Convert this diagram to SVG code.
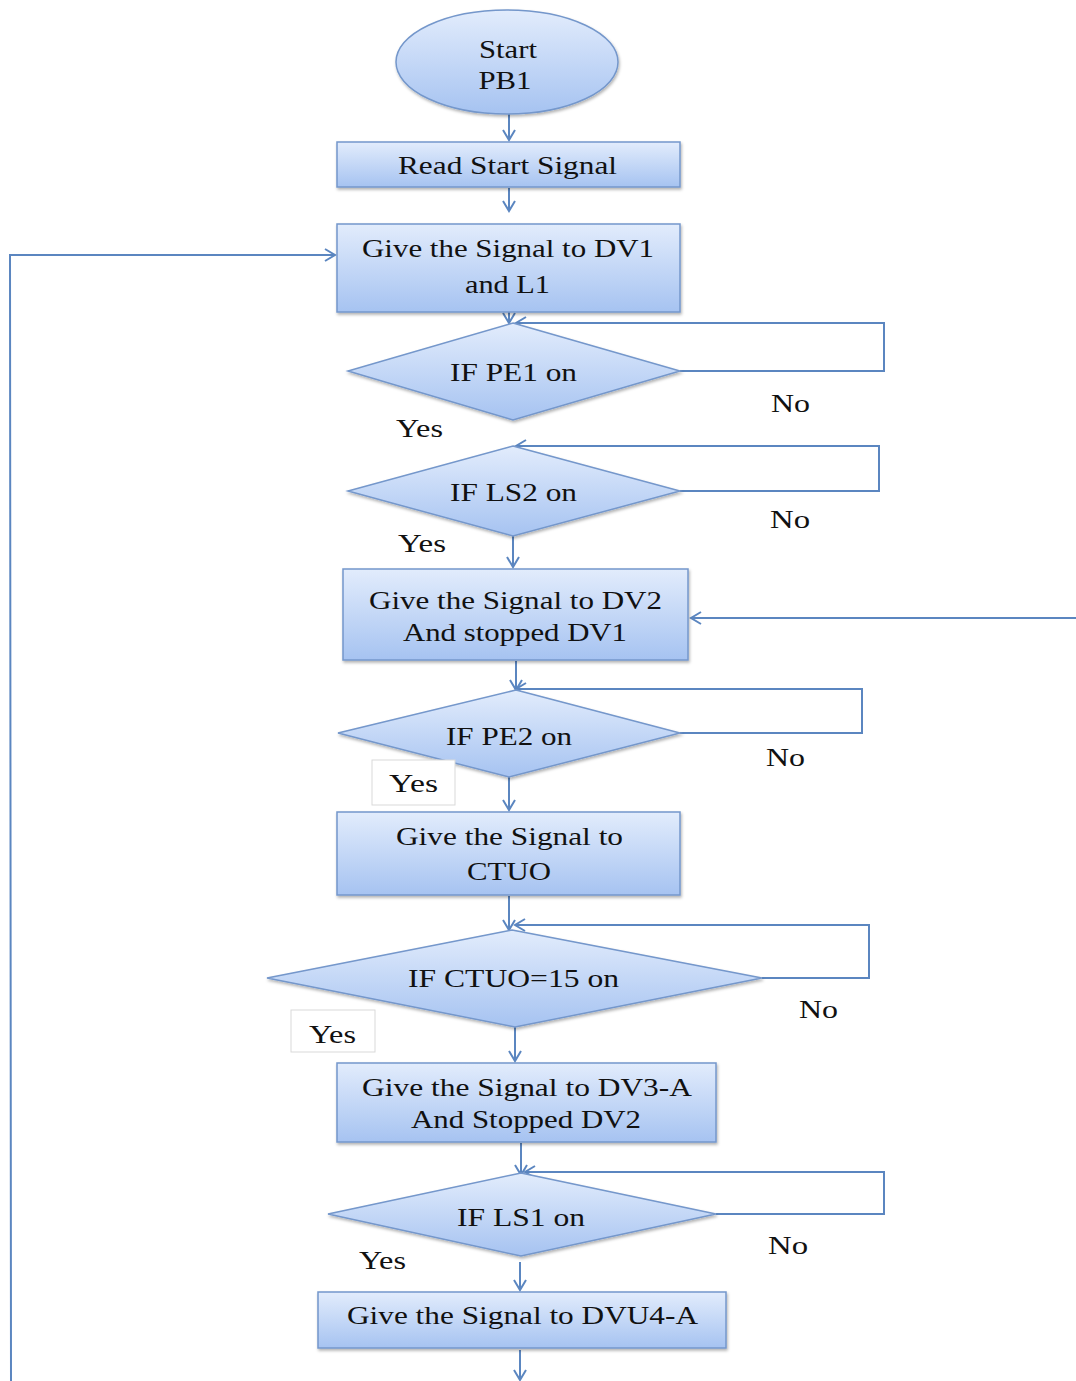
<svg xmlns="http://www.w3.org/2000/svg" width="1076" height="1381" viewBox="0 0 1076 1381" font-family="'Liberation Serif', 'DejaVu Serif', serif">
<defs>
<linearGradient id="g" x1="0" y1="0" x2="0" y2="1">
<stop offset="0" stop-color="#e2ecfc"/>
<stop offset="1" stop-color="#a6c3f1"/>
</linearGradient>
<filter id="sh" x="-5%" y="-10%" width="110%" height="130%">
<feDropShadow dx="1" dy="2" stdDeviation="1.5" flood-color="#000" flood-opacity="0.3"/>
</filter>
<marker id="arr" markerUnits="userSpaceOnUse" markerWidth="14" markerHeight="14" viewBox="0 0 14 14" refX="12" refY="7" orient="auto">
<path d="M2,1 L12,7 L2,13" fill="none" stroke="#5b86c0" stroke-width="2"/>
</marker>
</defs>
<style>
.n{fill:url(#g);stroke:#7497cb;stroke-width:1.5;filter:url(#sh)}
.c{fill:none;stroke:#5b86c0;stroke-width:2}
.t{font-family:'Liberation Serif','DejaVu Serif',serif;font-size:26px;fill:#111;text-anchor:middle}
.yb{fill:#fff;stroke:#d9d9d9;stroke-width:1}
</style>
<rect width="1076" height="1381" fill="#fff"/>
<g id="connectors">
<line class="c" x1="509" y1="114" x2="509" y2="140" marker-end="url(#arr)"/>
<line class="c" x1="509" y1="188" x2="509" y2="211" marker-end="url(#arr)"/>
<polyline class="c" points="11,1381 10,255 335,255" marker-end="url(#arr)"/>
<line class="c" x1="509" y1="312" x2="509" y2="323" marker-end="url(#arr)"/>
<polyline class="c" points="680,371 884,371 884,323 516,323" marker-end="url(#arr)"/>
<polyline class="c" points="680,491 879,491 879,446 516,446" marker-end="url(#arr)"/>
<line class="c" x1="513" y1="536" x2="513" y2="567" marker-end="url(#arr)"/>
<line class="c" x1="1076" y1="618" x2="691" y2="618" marker-end="url(#arr)"/>
<line class="c" x1="516" y1="661" x2="516" y2="690" marker-end="url(#arr)"/>
<polyline class="c" points="680,733 862,733 862,689 516,689" marker-end="url(#arr)"/>
<line class="c" x1="509" y1="777" x2="509" y2="810" marker-end="url(#arr)"/>
<line class="c" x1="509" y1="896" x2="509" y2="930" marker-end="url(#arr)"/>
<polyline class="c" points="762,978 869,978 869,925 515,925" marker-end="url(#arr)"/>
<line class="c" x1="515" y1="1027" x2="515" y2="1061" marker-end="url(#arr)"/>
<line class="c" x1="521" y1="1143" x2="521" y2="1175" marker-end="url(#arr)"/>
<polyline class="c" points="716,1214 884,1214 884,1172 525,1172" marker-end="url(#arr)"/>
<line class="c" x1="520" y1="1262" x2="520" y2="1290" marker-end="url(#arr)"/>
<line class="c" x1="520" y1="1350" x2="520" y2="1380" marker-end="url(#arr)"/>
</g>
<g id="start">
<ellipse class="n" cx="507" cy="62" rx="111" ry="52"/>
<text class="t" x="508" y="58" textLength="58" lengthAdjust="spacingAndGlyphs">Start</text>
<text class="t" x="505" y="89" textLength="53" lengthAdjust="spacingAndGlyphs">PB1</text>
</g>
<g id="read">
<rect class="n" x="337" y="142" width="343" height="45"/>
<text class="t" x="507.5" y="174" textLength="219" lengthAdjust="spacingAndGlyphs">Read Start Signal</text>
</g>
<g id="dv1">
<rect class="n" x="337" y="224" width="343" height="88"/>
<text class="t" x="508" y="257" textLength="292" lengthAdjust="spacingAndGlyphs">Give the Signal to DV1</text>
<text class="t" x="507.5" y="293" textLength="85" lengthAdjust="spacingAndGlyphs">and L1</text>
</g>
<g id="pe1">
<polygon class="n" points="513,323 680,371 513,420 348,371"/>
<text class="t" x="513.5" y="381" textLength="127" lengthAdjust="spacingAndGlyphs">IF PE1  on</text>
</g>
<g id="lbl1">
<text class="t" x="790.5" y="412" textLength="39" lengthAdjust="spacingAndGlyphs">No</text>
<text class="t" x="419.5" y="437" textLength="47" lengthAdjust="spacingAndGlyphs">Yes</text>
</g>
<g id="ls2">
<polygon class="n" points="513,446 680,491 513,536 348,491"/>
<text class="t" x="513.5" y="501" textLength="127" lengthAdjust="spacingAndGlyphs">IF LS2  on</text>
</g>
<g id="lbl2">
<text class="t" x="790" y="528" textLength="40" lengthAdjust="spacingAndGlyphs">No</text>
<text class="t" x="422" y="552" textLength="48" lengthAdjust="spacingAndGlyphs">Yes</text>
</g>
<g id="dv2">
<rect class="n" x="343" y="569" width="345" height="91"/>
<text class="t" x="515.5" y="609" textLength="293" lengthAdjust="spacingAndGlyphs">Give the Signal to DV2</text>
<text class="t" x="515" y="641" textLength="224" lengthAdjust="spacingAndGlyphs">And stopped DV1</text>
</g>
<g id="pe2">
<polygon class="n" points="516,690 680,733 509,777 338,733"/>
<text class="t" x="509" y="745" textLength="126" lengthAdjust="spacingAndGlyphs">IF PE2  on</text>
</g>
<g id="lbl3">
<text class="t" x="785.5" y="766" textLength="39" lengthAdjust="spacingAndGlyphs">No</text>
<rect class="yb" x="372" y="760" width="83" height="45"/>
<text class="t" x="413.5" y="792" textLength="49" lengthAdjust="spacingAndGlyphs">Yes</text>
</g>
<g id="ctuo">
<rect class="n" x="337" y="812" width="343" height="83"/>
<text class="t" x="509.5" y="845" textLength="227" lengthAdjust="spacingAndGlyphs">Give the Signal to</text>
<text class="t" x="509" y="880" textLength="84" lengthAdjust="spacingAndGlyphs">CTUO</text>
</g>
<g id="ctuo15">
<polygon class="n" points="512,930 762,978 515,1027 267,978"/>
<text class="t" x="513.5" y="987" textLength="211" lengthAdjust="spacingAndGlyphs">IF CTUO=15  on</text>
</g>
<g id="lbl4">
<text class="t" x="818.5" y="1018" textLength="39" lengthAdjust="spacingAndGlyphs">No</text>
<rect class="yb" x="291" y="1010" width="84" height="42"/>
<text class="t" x="332.5" y="1043" textLength="47" lengthAdjust="spacingAndGlyphs">Yes</text>
</g>
<g id="dv3">
<rect class="n" x="337" y="1063" width="379" height="79"/>
<text class="t" x="527" y="1096" textLength="330" lengthAdjust="spacingAndGlyphs">Give the Signal to DV3-A</text>
<text class="t" x="526" y="1128" textLength="230" lengthAdjust="spacingAndGlyphs">And Stopped DV2</text>
</g>
<g id="ls1">
<polygon class="n" points="521,1173 716,1214 521,1256 328,1214"/>
<text class="t" x="521" y="1226" textLength="128" lengthAdjust="spacingAndGlyphs">IF LS1  on</text>
</g>
<g id="lbl5">
<text class="t" x="788" y="1254" textLength="40" lengthAdjust="spacingAndGlyphs">No</text>
<text class="t" x="382.5" y="1269" textLength="47" lengthAdjust="spacingAndGlyphs">Yes</text>
</g>
<g id="dvu4">
<rect class="n" x="318" y="1292" width="408" height="56"/>
<text class="t" x="522.5" y="1324" textLength="351" lengthAdjust="spacingAndGlyphs">Give the Signal to DVU4-A</text>
</g>
</svg>
